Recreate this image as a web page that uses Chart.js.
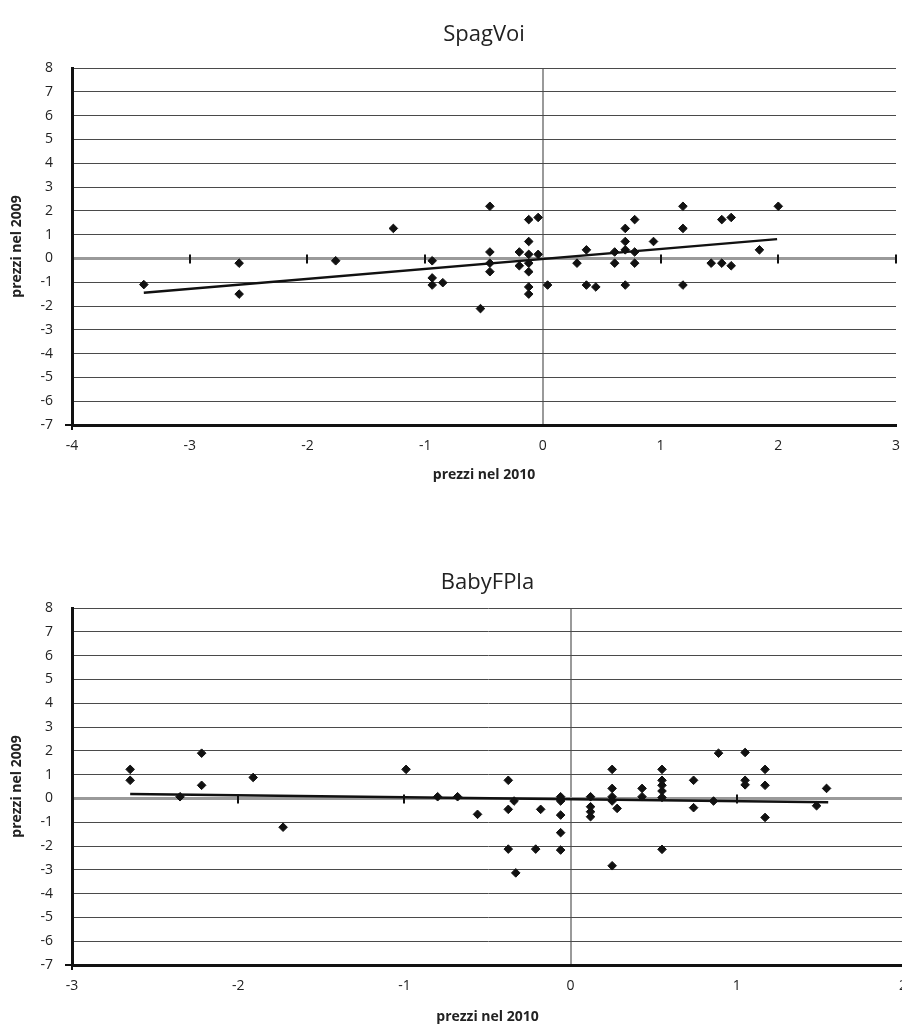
<!DOCTYPE html>
<html lang="it">
<head>
<meta charset="utf-8">
<title>SpagVoi / BabyFPla</title>
<script src="https://cdn.jsdelivr.net/npm/chart.js@4.4.1/dist/chart.umd.min.js"></script>
<style>
  html, body { margin: 0; padding: 0; background: #fff; overflow: hidden; }
  .box { position: absolute; left: 0; }
  #box1 { top: 0; }
  #box2 { top: 540px; }
</style>
</head>
<body>
<div class="box" id="box1"><canvas id="chart1" width="902" height="500"></canvas></div>
<div class="box" id="box2"><canvas id="chart2" width="912" height="487"></canvas></div>
<script>
// === DATI: SpagVoi (prezzi 2010 vs 2009) ===
const spagX = [-3.39, -2.58, -2.58, -1.76, -1.27, -0.94, -0.94, -0.94, -0.85, -0.45,
               -0.45, -0.45, -0.45, -0.53, -0.20, -0.20, -0.12, -0.12, -0.12, -0.12,
               -0.12, -0.12, -0.12, -0.04, -0.04, 0.04, 0.29, 0.37, 0.37, 0.45,
               0.61, 0.61, 0.70, 0.70, 0.70, 0.70, 0.78, 0.78, 0.78, 0.94,
               1.19, 1.19, 1.19, 1.43, 1.52, 1.52, 1.60, 1.60, 1.84, 2.00];
const spagY = [-1.10, -0.20, -1.50, -0.10, 1.26, -0.10, -0.82, -1.12, -1.02, 2.19,
               0.27, -0.20, -0.56, -2.11, 0.27, -0.31, 1.63, 0.71, 0.17, -0.20,
               -0.56, -1.20, -1.50, 1.72, 0.17, -1.12, -0.20, 0.36, -1.12, -1.20,
               0.27, -0.20, 1.26, 0.71, 0.36, -1.12, 1.63, 0.27, -0.20, 0.71,
               2.19, 1.26, -1.12, -0.20, 1.63, -0.20, 1.72, -0.31, 0.36, 2.19];
// linea di tendenza (estremi)
const spagTrendX = [-3.39, 1.99];
const spagTrendY = [-1.44, 0.81];

// === DATI: BabyFPla ===
const babyX = [-2.65, -2.65, -2.22, -2.22, -2.35, -1.91, -1.73, -0.99, -0.80, -0.68,
               -0.56, -0.375, -0.375, -0.375, -0.34, -0.33, -0.21, -0.18, -0.06, -0.06,
               -0.06, -0.06, -0.06, -0.06, 0.12, 0.12, 0.12, 0.12, 0.25, 0.25,
               0.25, 0.25, 0.28, 0.25, 0.43, 0.43, 0.55, 0.55, 0.55, 0.55,
               0.55, 0.55, 0.74, 0.74, 0.86, 0.89, 1.05, 1.05, 1.05, 1.17,
               1.17, 1.17, 1.48, 1.54];
const babyY = [1.22, 0.76, 1.90, 0.55, 0.07, 0.88, -1.21, 1.22, 0.07, 0.07,
               -0.67, 0.76, -0.46, -2.13, -0.11, -3.13, -2.13, -0.46, 0.07, -0.11,
               -0.02, -0.70, -1.44, -2.17, 0.07, -0.35, -0.56, -0.77, 1.22, 0.42,
               0.07, -0.11, -0.42, -2.83, 0.42, 0.07, 1.22, 0.76, 0.55, 0.31,
               0.04, -2.14, 0.76, -0.39, -0.11, 1.90, 1.93, 0.76, 0.57, 1.22,
               0.55, -0.80, -0.31, 0.42];
const babyTrendX = [-2.65, 1.55];
const babyTrendY = [0.18, -0.16];

// Assi
const yMin = -7, yMax = 8;
const FONT = 'Open Sans';
Chart.defaults.font.family = FONT;

// Tacche sulla linea dello zero + angolo in basso a sinistra
const tacche = {
    id: 'tacche',
    beforeDatasetsDraw(chart) {
        const { ctx, scales: { x, y } } = chart;
        const y0 = y.getPixelForValue(0);
        ctx.save();
        ctx.strokeStyle = '#111';
        ctx.lineWidth = 2;
        ctx.beginPath();
        x.ticks.forEach(t => {
            if (t.value === 0 || t.value === x.min) return;
            const px = Math.round(x.getPixelForValue(t.value));
            ctx.moveTo(px, y0 - 4);
            ctx.lineTo(px, y0 + 5);
        });
        const xl = x.getPixelForValue(x.min);
        const yb = y.getPixelForValue(y.min);
        ctx.moveTo(xl - 7, yb);
        ctx.lineTo(xl, yb);
        ctx.moveTo(xl, yb);
        ctx.lineTo(xl, yb + 5);
        ctx.stroke();
        ctx.restore();
    }
};

function creaGrafico(id, cfg) {
    const canvas = document.getElementById(id);
    const H = canvas.height;
    const punti = cfg.x.map((v, i) => ({ x: v, y: cfg.y[i] }));
    const trend = cfg.tx.map((v, i) => ({ x: v, y: cfg.ty[i] }));

    return new Chart(canvas.getContext('2d'), {
        type: 'scatter',
        data: {
            datasets: [{
                data: trend,
                showLine: true,
                borderColor: '#111',
                borderWidth: 2.5,
                pointRadius: 0,
                pointHoverRadius: 0
            }, {
                data: punti,
                pointStyle: 'rectRot',
                pointRadius: 4.3,
                backgroundColor: '#111',
                borderColor: '#111',
                borderWidth: 1
            }]
        },
        options: {
            responsive: false,
            animation: false,
            layout: { padding: { left: 0, right: cfg.padRight, top: 0, bottom: 0 } },
            plugins: {
                legend: { display: false },
                tooltip: { enabled: false },
                title: {
                    display: true,
                    text: cfg.titolo,
                    fullSize: false,
                    color: '#222',
                    font: { size: 22, weight: 'normal' },
                    padding: { top: cfg.titTop, bottom: cfg.titBottom }
                }
            },
            scales: {
                x: {
                    type: 'linear',
                    min: cfg.xMin,
                    max: cfg.xMax,
                    ticks: { stepSize: 1, padding: 13, color: '#222', font: { size: 14 } },
                    grid: {
                        drawTicks: false,
                        color: c => (c.tick && c.tick.value === 0) ? '#9a9a9a' : 'rgba(0,0,0,0)',
                        lineWidth: 2
                    },
                    border: { color: '#111', width: 3 },
                    title: {
                        display: true,
                        text: 'prezzi nel 2010',
                        color: '#222',
                        font: { size: 14, weight: 'bold' },
                        padding: { top: 0, bottom: cfg.xTitBottom }
                    },
                    afterFit: s => {
                        s.height = H - 425;
                        s.paddingLeft = 0;
                        s.paddingRight = 0;
                    }
                },
                y: {
                    type: 'linear',
                    min: yMin,
                    max: yMax,
                    ticks: { stepSize: 1, padding: 19, color: '#222', font: { size: 14 } },
                    grid: {
                        drawTicks: false,
                        color: c => (c.tick && c.tick.value === 0) ? '#9a9a9a' : '#4a4a4a',
                        lineWidth: c => (c.tick && c.tick.value === 0) ? 3 : 1
                    },
                    border: { color: '#111', width: 3 },
                    title: {
                        display: true,
                        text: 'prezzi nel 2009',
                        color: '#222',
                        font: { size: 14, weight: 'bold' },
                        padding: { top: 8.6, bottom: 0 }
                    },
                    afterFit: s => { s.width = 72; }
                }
            }
        },
        plugins: [tacche]
    });
}

creaGrafico('chart1', {
    titolo: 'SpagVoi',
    x: spagX, y: spagY, tx: spagTrendX, ty: spagTrendY,
    xMin: -4, xMax: 3,
    padRight: 6, titTop: 22, titBottom: 19.6, xTitBottom: 16.6
});

creaGrafico('chart2', {
    titolo: 'BabyFPla',
    x: babyX, y: babyY, tx: babyTrendX, ty: babyTrendY,
    xMin: -3, xMax: 2,
    padRight: 9, titTop: 30, titBottom: 11.6, xTitBottom: 1.9
});
</script>
</body>
</html>
